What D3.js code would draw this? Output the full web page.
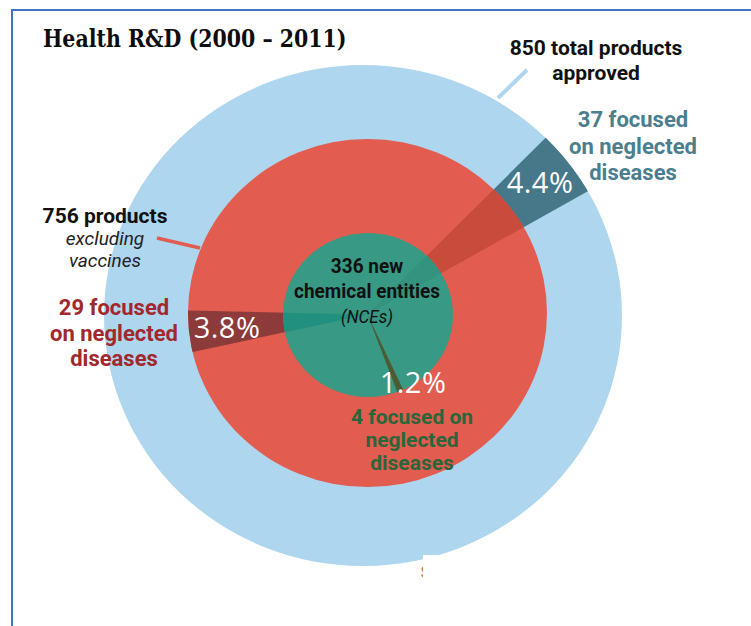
<!DOCTYPE html>
<html>
<head>
<meta charset="utf-8">
<script src="https://cdn.jsdelivr.net/npm/d3@7"></script>
<style>
  html, body { margin: 0; padding: 0; background: #fff; }
  svg { display: block; }
</style>
</head>
<body>
<div id="svg-container"></div>
<script>
/* global d3 */
(function () {
  'use strict'

  // Data
  var rings = ['All products', 'Excluding vaccines', 'New chemical entities']
  var totals = [850, 756, 336]
  var focused = [37, 29, 4]
  var shareLabels = ['4.4%', '3.8%', '1.2%']

  // Dimensions and stuff
  var w = 751
  var h = 626
  var sx = 1.033 // the picture is a bit stretched sideways
  var origin = [367.5, 314.5]

  var ringLayout = [
    { cx: 363, cy: 315.5, rx: 259, ry: 250.5, fill: '#aed6ee', wedge: '#46788a', start: 44.3 },
    { cx: 367.5, cy: 313, rx: 179.5, ry: 174, fill: '#e25c50', wedge: '#8c3a3a', start: 257.5 },
    { cx: 368, cy: 315, rx: 85, ry: 82, fill: '#389a84', wedge: '#4b5b34', start: 155.3 }
  ]
  // colour of wedge j when it crosses ring i
  var tints = [
    [null, '#c84b3c', '#34937e'],
    [null, null, '#22907e'],
    [null, null, null]
  ]

  var angle = d3.scaleLinear().domain([0, 1]).range([0, 2 * Math.PI])
  var deg = Math.PI / 180

  var s = d3.select('#svg-container').append('svg')
    .attr('width', w)
    .attr('height', h)

  var defs = s.append('defs')
  ringLayout.forEach(function (r, i) {
    defs.append('clipPath').attr('id', 'ring-' + i)
      .append('ellipse')
      .attr('cx', r.cx).attr('cy', r.cy).attr('rx', r.rx).attr('ry', r.ry)
  })

  var sector = d3.arc().innerRadius(0).outerRadius(320)

  function wedgeArc (j) {
    var a0 = ringLayout[j].start * deg
    return sector({ startAngle: a0, endAngle: a0 + angle(focused[j] / totals[j]) })
  }

  function drawWedge (j, ring, color) {
    s.append('g')
      .attr('clip-path', 'url(#ring-' + ring + ')')
      .append('g')
      .attr('transform', 'translate(' + origin[0] + ',' + origin[1] + ') scale(' + sx + ',1)')
      .append('path')
      .attr('d', wedgeArc(j))
      .attr('fill', color)
  }

  // Rings, outer first, each with its own wedge and the tint of the outer wedges
  rings.forEach(function (name, i) {
    var r = ringLayout[i]
    s.append('ellipse')
      .attr('class', 'ring')
      .attr('cx', r.cx).attr('cy', r.cy).attr('rx', r.rx).attr('ry', r.ry)
      .attr('fill', r.fill)
    for (var j = 0; j < i; j++) {
      drawWedge(j, i, tints[j][i])
    }
    drawWedge(i, i, r.wedge)
  })

  // Leader lines
  s.append('line')
    .attr('x1', 527).attr('y1', 70).attr('x2', 498).attr('y2', 98)
    .attr('stroke', '#aed6ee').attr('stroke-width', 4)
  s.append('line')
    .attr('x1', 157).attr('y1', 238).attr('x2', 200).attr('y2', 248)
    .attr('stroke', '#e25c50').attr('stroke-width', 3.5)

  // Cropped-off bits at the bottom
  s.append('text')
    .attr('x', 420.5).attr('y', 578)
    .attr('font-family', 'Roboto, sans-serif').attr('font-size', 17)
    .attr('fill', '#c07a45')
    .text('S')
  s.append('rect')
    .attr('x', 423).attr('y', 555).attr('width', w - 423).attr('height', h - 555)
    .attr('fill', '#fff')

  // Frame
  s.append('path')
    .attr('d', 'M12,' + h + 'V10H' + w)
    .attr('fill', 'none')
    .attr('stroke', '#4472c4')
    .attr('stroke-width', 2)

  // Text blocks
  function label (x, y, lines, o) {
    var g = s.append('g')
      .attr('transform', 'translate(' + x + ',' + y + ') scale(' + (o.sx || 1) + ',1)')
    lines.forEach(function (l, k) {
      var line = typeof l === 'string' ? { t: l } : l
      g.append('text')
        .attr('y', k * (o.lh || 0))
        .attr('text-anchor', o.anchor || 'middle')
        .attr('font-family', o.family || 'Roboto, sans-serif')
        .attr('font-size', line.size || o.size)
        .attr('font-weight', line.weight || o.weight || 'bold')
        .attr('font-style', line.style || 'normal')
        .attr('letter-spacing', o.ls || 0)
        .attr('fill', line.color || o.color || '#111')
        .text(line.t)
    })
  }

  label(43, 47, ['Health R&D (2000 \u2013 2011)'],
    { anchor: 'start', family: '"DejaVu Serif", serif', size: 24, sx: 0.855, color: '#0d0d0d' })

  label(596, 55, [totals[0] + ' total products', 'approved'], { size: 21, lh: 25 })
  label(633, 127, [focused[0] + ' focused', 'on neglected', 'diseases'],
    { size: 22, lh: 26.5, color: '#4b7e8f' })

  label(105, 223, [
    totals[1] + ' products',
    { t: 'excluding', style: 'italic', weight: 'normal', size: 19, color: '#222' },
    { t: 'vaccines', style: 'italic', weight: 'normal', size: 19, color: '#222' }
  ], { size: 21, lh: 22 })
  label(114, 315, [focused[1] + ' focused', 'on neglected', 'diseases'],
    { size: 22, lh: 25.5, color: '#a1282d' })

  label(367, 273, [
    totals[2] + ' new',
    'chemical entities',
    { t: '(NCEs)', style: 'italic', weight: 'normal', size: 18 }
  ], { size: 20, lh: 25, sx: 0.95 })
  label(412, 424, [focused[2] + ' focused on', 'neglected', 'diseases'],
    { size: 21, lh: 23, color: '#2b6539' })

  // Share labels
  var sharePos = [[540, 193], [227, 338], [413, 393]]
  shareLabels.forEach(function (t, i) {
    label(sharePos[i][0], sharePos[i][1], [t],
      { size: 29, weight: 'normal', color: '#fff', family: '"Open Sans", sans-serif', ls: 0.5 })
  })
}())
</script>
</body>
</html>
